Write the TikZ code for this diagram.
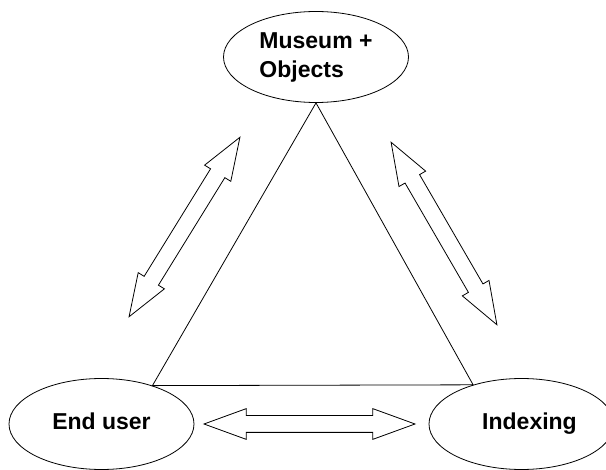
\documentclass[tikz,border=0pt]{standalone}
\usepackage{fontspec}
\setmainfont{Liberation Sans}
\usetikzlibrary{shapes.geometric,shapes.arrows}

\tikzset{
  blob/.style={draw,ellipse,minimum width=185pt,minimum height=91pt,inner sep=0pt,
    font=\bfseries\fontsize{23}{29}\selectfont,align=left},
  oneline/.style={text height=16pt,text depth=5pt},
  dblarrow/.style={draw,double arrow,minimum height=211pt,inner xsep=0pt,inner ysep=8pt,
    double arrow head extend=7pt,double arrow tip angle=40}
}

\begin{document}
\begin{tikzpicture}[x=1pt,y=-1pt,line width=0.8pt]
\useasboundingbox (0,0) rectangle (606,470);

\begin{scope}
  \node[blob] (museum) at (316,57)            {Museum +\\Objects};
  \node[blob,oneline] (user)   at (101.5,424) {End user};
  \node[blob,oneline] (index)  at (521.5,424) {\hspace*{16pt}Indexing};
\end{scope}

\draw (museum.south) -- (user.37) -- (index.141) -- cycle;

\begin{scope}
  \node[dblarrow,rotate=58.3]  (usermuseum)  at (184.5,227) {};
  \node[dblarrow,rotate=-59.9] (museumindex) at (444,233.5) {};
  \node[dblarrow]              (userindex)   at (309.5,424) {};
\end{scope}

\end{tikzpicture}
\end{document}
